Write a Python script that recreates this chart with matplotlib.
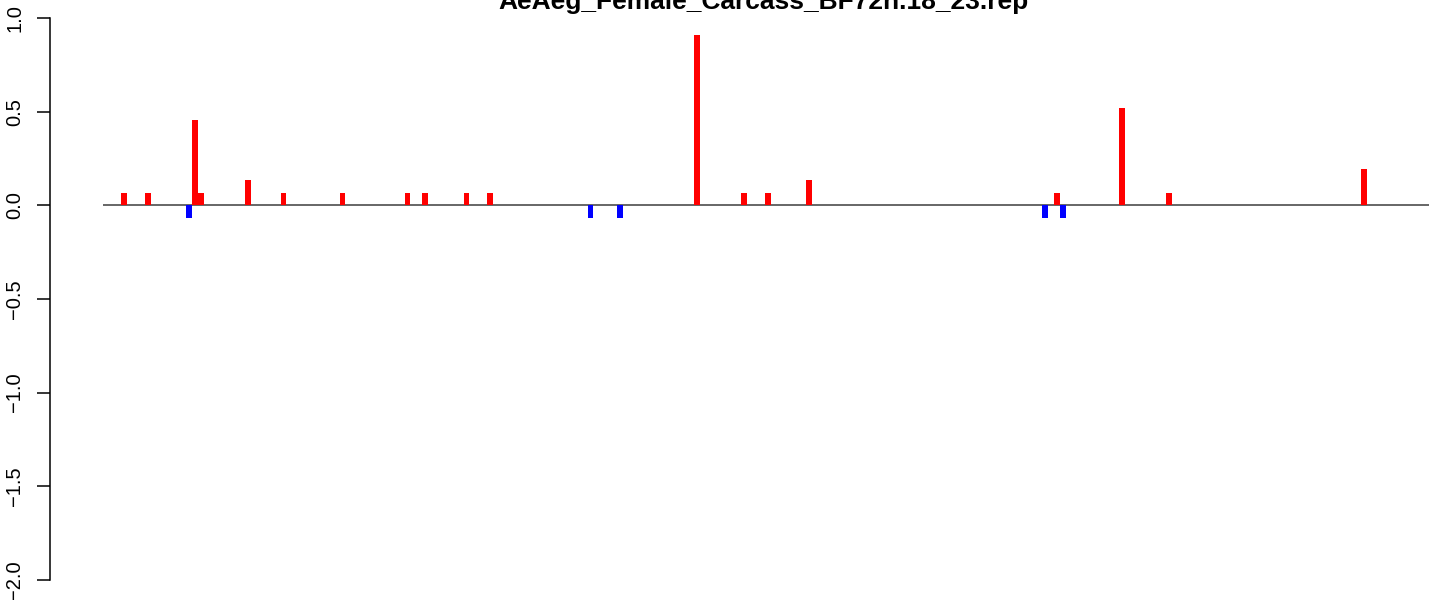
import matplotlib
matplotlib.use('Agg')
import matplotlib.pyplot as plt

plt.rcParams['font.family'] = ['Liberation Sans', 'DejaVu Sans']

title = 'AeAeg_Female_Carcass_BF72h.18_23.rep'

# bar index positions and values
pos_idx = [21, 25, 33, 34, 42, 48, 58, 69, 72, 79, 83, 118, 126, 130, 137, 179, 190, 198, 231]
pos_val = [0.067, 0.067, 0.453, 0.067, 0.133, 0.067, 0.067, 0.067, 0.067, 0.067, 0.067,
           0.907, 0.067, 0.067, 0.133, 0.067, 0.517, 0.067, 0.192]
neg_idx = [32, 100, 105, 177, 180]
neg_val = [-0.067, -0.067, -0.067, -0.067, -0.067]

first_idx = 18
yticks = [1.0, 0.5, 0.0, -0.5, -1.0, -1.5, -2.0]
ytick_labels = ['1.0', '0.5', '0.0', '\u22120.5', '\u22121.0', '\u22121.5', '\u22122.0']

fig = plt.figure(figsize=(14.29, 6), dpi=100)
ax = fig.add_axes([50 / 1429, 0, 1 - 50 / 1429, 1])

ax.hlines(0, first_idx - 0.5, 260, color='#4d4d4d', lw=1.2, zorder=1)
ax.bar(pos_idx, pos_val, width=0.98, color='red', linewidth=0, zorder=2)
ax.bar(neg_idx, neg_val, width=0.98, color='blue', linewidth=0, zorder=2)

ax.set_xlim(8.47, 242.0)
ax.set_ylim(-2.1068, 1.0961)

for s in ['top', 'right', 'bottom']:
    ax.spines[s].set_visible(False)
ax.spines['left'].set_bounds(-2, 1)
ax.spines['left'].set_linewidth(1.1)
ax.set_xticks([])
ax.set_yticks(yticks)
ax.set_yticklabels(ytick_labels, rotation=90, va='center', fontsize=14.5)
ax.tick_params(axis='y', length=9.4, width=1.1, pad=9)

fig.text(763.5 / 1429, 1 - 9 / 600, title, ha='center', va='baseline',
         fontsize=19, fontweight='bold')

fig.savefig('out.png', dpi=100)
